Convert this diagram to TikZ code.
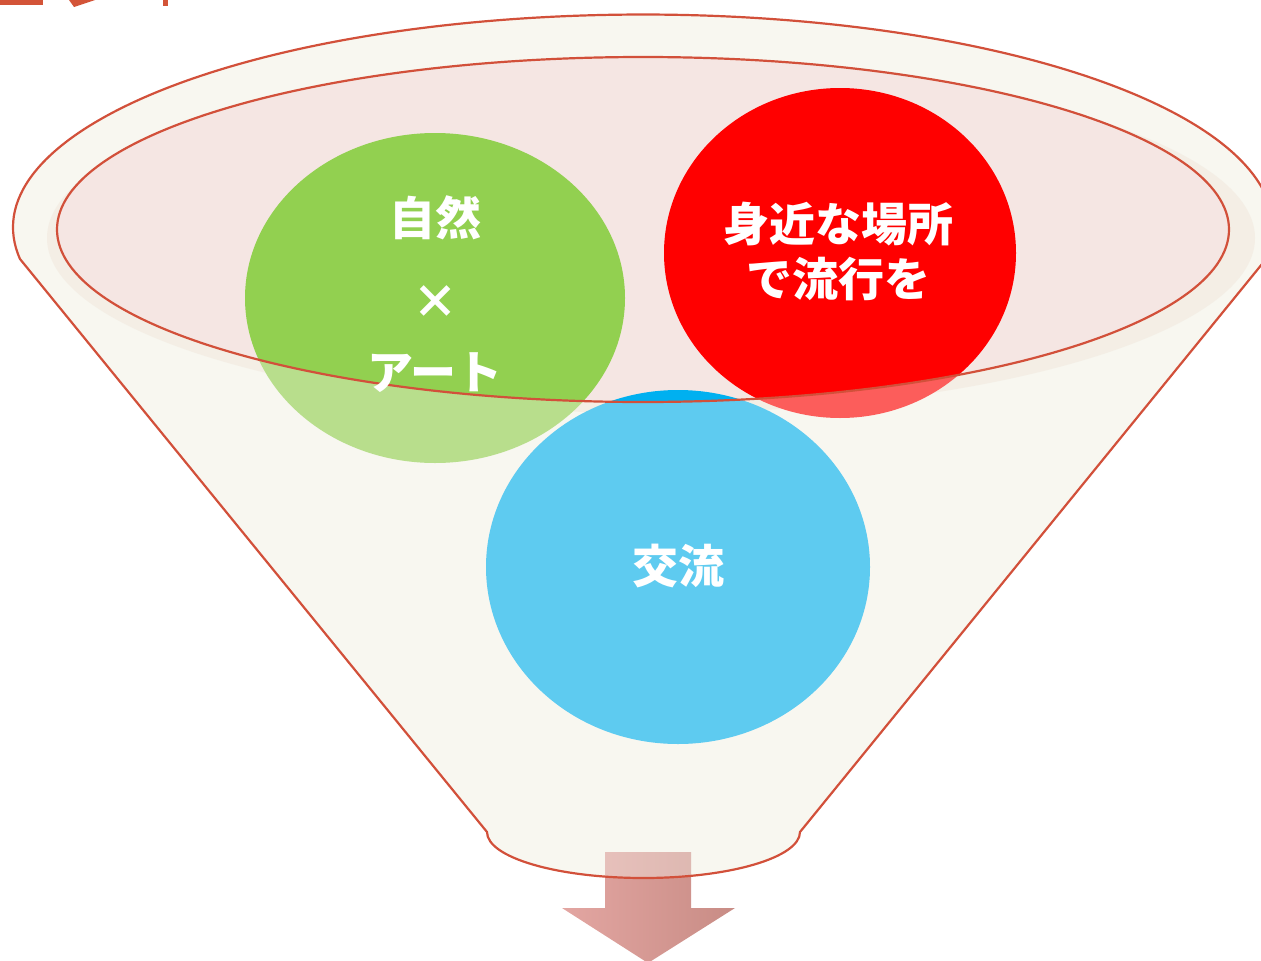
\documentclass[tikz,border=0pt]{standalone}
\usepackage{fontspec}
\newfontfamily\jp{Noto Sans CJK JP}
\usetikzlibrary{shapes.geometric}
\definecolor{edge}{HTML}{D2503A}
\definecolor{cream}{HTML}{F8F7F0}
\definecolor{pinkin}{HTML}{F5E6E3}
\definecolor{shadowc}{HTML}{F2EADF}
\definecolor{greenc}{HTML}{92D050}
\definecolor{redc}{HTML}{FF0000}
\definecolor{bluec}{HTML}{00B0F0}
\definecolor{arrowl}{HTML}{E3A6A2}
\definecolor{arrowr}{HTML}{C88C85}
\definecolor{titlec}{HTML}{D35438}
\tikzset{
  lbl/.style={text=white,font=\jp\bfseries\fontsize{46}{56}\selectfont,align=center,inner sep=0pt},
  outline/.style={draw=edge,line width=2.2pt},
}
\begin{document}
\begin{tikzpicture}[x=1pt,y=1pt]
\useasboundingbox (0,0) rectangle (1261,-961);
% title fragments (cut off)
\fill[titlec] (0,0) rectangle (43,-5);
\fill[titlec] (69,0) -- (95,0) -- (74,-7) -- cycle;
\fill[titlec] (163,0) rectangle (168,-6);
% funnel body
\coordinate (kl) at (20,-259);
\coordinate (bl) at (487,-832);
\coordinate (br) at (800,-832);
\def\funnelpath{(kl) arc[start angle=188.5,end angle=-8.5,x radius=630pt,y radius=213pt] -- (br) arc[start angle=0,end angle=-180,x radius=156.5pt,y radius=46pt] -- (kl)}
\fill[cream] \funnelpath -- cycle;
% shadow and inner ellipse
\fill[shadowc] (651,-238) ellipse[x radius=604pt,y radius=175pt];
\fill[pinkin] (643,-229.5) ellipse[x radius=586pt,y radius=172.5pt];
% arrow
\shade[left color=arrowl,right color=arrowr] (605,-852) -- (691,-852) -- (691,-908) -- (735,-908) -- (648,-963) -- (562,-908) -- (605,-908) -- cycle;
% circles
\fill[greenc] (435,-298) ellipse[x radius=190pt,y radius=165pt];
\fill[bluec] (678,-567) ellipse[x radius=192pt,y radius=177pt];
\fill[redc] (840,-253) ellipse[x radius=176pt,y radius=165pt];
% translucent lower funnel over circles
\fill[cream,fill opacity=0.38,even odd rule] \funnelpath -- cycle (643,-229.5) ellipse[x radius=586pt,y radius=172.5pt];
% outlines
\draw[outline] (643,-229.5) ellipse[x radius=586pt,y radius=172.5pt];
\draw[outline,line join=round] \funnelpath -- cycle;
% labels
\node[lbl] (t1) at (435,-218) {自然};
\node[lbl] (t2) at (435,-302) {×};
\node[lbl] (t3) at (435,-373) {アート};
\node[lbl] (t4) at (838,-224) {身近な場所};
\node[lbl] (t5) at (838,-279) {で流行を};
\node[lbl] (t6) at (678,-566) {交流};
\end{tikzpicture}
\end{document}
